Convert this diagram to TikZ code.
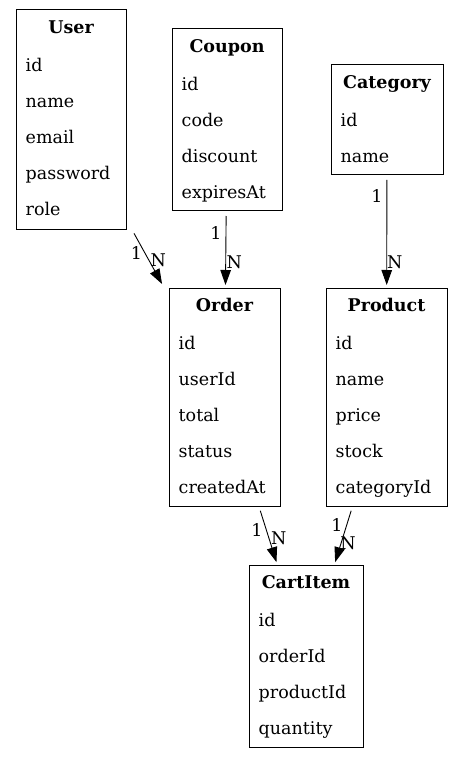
\documentclass[tikz,border=0pt]{standalone}
\usepackage{fontspec}
\setmainfont{DejaVuSerif.ttf}[BoldFont=DejaVuSerif-Bold.ttf]
\usepackage{tikz}
\usetikzlibrary{arrows.meta, positioning}
\newcommand{\erfont}{\fontsize{17.5}{21}\selectfont}
\tikzstyle{entity} = [rectangle, draw=black, line width=1pt, inner sep=0pt, outer sep=0pt]
\tikzstyle{rel} = [line width=0.9pt, -{Triangle[length=15pt, width=10.5pt]}, shorten <=5pt, shorten >=3pt]
\tikzset{
  title/.style={anchor=base, inner sep=0pt, font=\erfont\bfseries},
  field/.style={anchor=base west, inner sep=0pt, font=\erfont},
  card/.style={inner sep=0pt, font=\erfont}
}

\begin{document}
\begin{tikzpicture}[x=1pt, y=-1pt]
    \useasboundingbox (0,0) rectangle (464,759);

    % Entities
    \node[entity, minimum width=110, minimum height=219] (user) at (71,119.5) {};
    \node[entity, minimum width=110, minimum height=182] (coupon) at (227,120) {};
    \node[entity, minimum width=112, minimum height=110] (category) at (387,120) {};
    \node[entity, minimum width=111, minimum height=218] (order) at (224.5,397) {};
    \node[entity, minimum width=121, minimum height=218] (product) at (386.5,397) {};
    \node[entity, minimum width=114, minimum height=182] (cartitem) at (306,656) {};

    % Titles
    \node[title] at ([yshift=-23.5pt]user.north) {User};
    \node[title] at ([yshift=-23.5pt]coupon.north) {Coupon};
    \node[title] at ([yshift=-23.5pt]category.north) {Category};
    \node[title] at ([yshift=-23.5pt]order.north) {Order};
    \node[title] at ([yshift=-23.5pt]product.north) {Product};
    \node[title] at ([yshift=-23.5pt]cartitem.north) {CartItem};

    % Fields
    \foreach \f [count=\i] in {id, name, email, password, role}
        \node[field] at ([xshift=9.5pt, yshift={-(25.5+36*\i)}]user.north west) {\f};
    \foreach \f [count=\i] in {id, code, discount, expiresAt}
        \node[field] at ([xshift=9.5pt, yshift={-(25.5+36*\i)}]coupon.north west) {\f};
    \foreach \f [count=\i] in {id, name}
        \node[field] at ([xshift=9.5pt, yshift={-(25.5+36*\i)}]category.north west) {\f};
    \foreach \f [count=\i] in {id, userId, total, status, createdAt}
        \node[field] at ([xshift=9.5pt, yshift={-(25.5+36*\i)}]order.north west) {\f};
    \foreach \f [count=\i] in {id, name, price, stock, categoryId}
        \node[field] at ([xshift=9.5pt, yshift={-(25.5+36*\i)}]product.north west) {\f};
    \foreach \f [count=\i] in {id, orderId, productId, quantity}
        \node[field] at ([xshift=9.5pt, yshift={-(25.5+36*\i)}]cartitem.north west) {\f};

    % Relations
    \draw[rel] ([xshift=5.6pt]user.south east) -- ([xshift=-5.5pt, yshift=1.4pt]order.north west)
        node[card, pos=.42, xshift=-8.5pt] {1} node[card, pos=.54, xshift=9.5pt] {N};
    \draw[rel] (coupon) -- (order)
        node[card, pos=.29, xshift=-10pt] {1} node[card, pos=.66, xshift=8.5pt] {N};
    \draw[rel] (category) -- (product)
        node[card, pos=.19, xshift=-10pt] {1} node[card, pos=.77, xshift=8pt] {N};
    \draw[rel] (order) -- (cartitem)
        node[card, pos=.41, xshift=-9.5pt] {1} node[card, pos=.54, xshift=10pt] {N};
    \draw[rel] (product) -- (cartitem)
        node[card, pos=.32, xshift=-9.7pt] {1} node[card, pos=.63, xshift=7pt] {N};
\end{tikzpicture}
\end{document}
